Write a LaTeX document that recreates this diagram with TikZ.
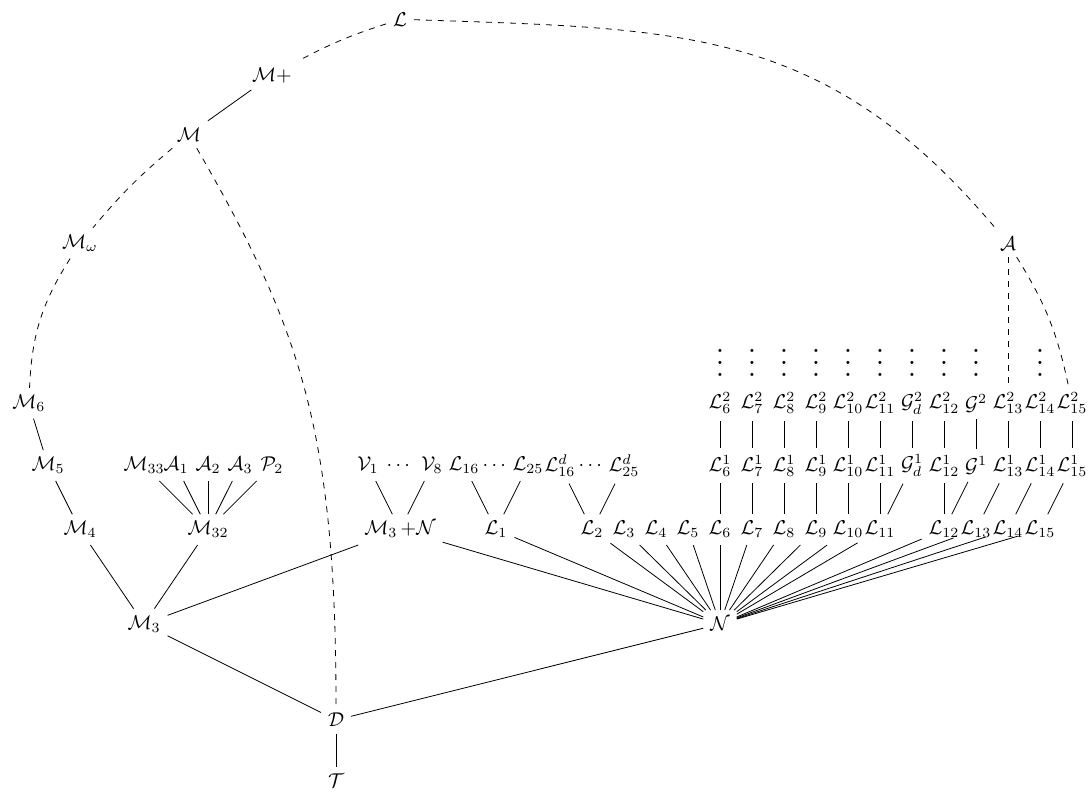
\documentclass[tikz,border=0pt]{standalone}
\usepackage{amsmath}
\usepackage{amssymb}
\usepackage{tikz}

\newcommand{\tallvdots}{\vbox{\baselineskip6pt\lineskiplimit0pt
  \hbox{\bfseries .}\hbox{\bfseries .}\hbox{\bfseries .}}}

\begin{document}
\begin{tikzpicture}[x=16pt,y=16pt]
\useasboundingbox (-0.5,0.5) rectangle (33.53,-24.28);
% top and left chain
\node (l) at (12,-0.1) {$\mathcal{L}$};
\node (mp) at (8,-1.85) {$\mathcal{M}+$};
\node (m) at (5.4,-3.7) {$\mathcal{M}$};
\node (mw) at (2,-7.1) {$\mathcal{M}_\omega$};
\node (m6) at (0.4,-12.1) {$\mathcal{M}_6$};
\node (m5) at (1,-14.05) {$\mathcal{M}_5$};
\node (m4) at (2,-16.05) {$\mathcal{M}_4$};
\node (m3) at (4,-19) {$\mathcal{M}_3$};
\node (m32) at (6,-16.05) {$\mathcal{M}_{32}$};
\node (m33) at (4,-14.05) {$\mathcal{M}_{33}$};
\node (a1) at (5,-14.05) {$\mathcal{A}_1$};
\node (a2) at (6,-14.05) {$\mathcal{A}_2$};
\node (a3) at (7,-14.05) {$\mathcal{A}_3$};
\node (p2) at (8,-14.05) {$\mathcal{P}_2$};
\node (d) at (10,-22) {$\mathcal{D}$};
\node (t) at (10,-23.9) {$\mathcal{T}$};
\node (n) at (22,-19) {$\mathcal{N}$};
\node (a) at (31,-7.1) {$\mathcal{A}$};
% middle part
\node (m3n) at (12,-16.05) {$\mathcal{M}_3\,{+}\mathcal{N}$};
\node (v1) at (11,-14.05) {$\mathcal{V}_1$};
\node (vd) at (12,-14.05) {$\cdots$};
\node (v8) at (13,-14.05) {$\mathcal{V}_8$};
\node (l1) at (15,-16.05) {$\mathcal{L}_1$};
\node (l16) at (14,-14.05) {$\mathcal{L}_{16}$};
\node (ld) at (15,-14.05) {$\cdots$};
\node (l25) at (16,-14.05) {$\mathcal{L}_{25}$};
\node (l2) at (18,-16.05) {$\mathcal{L}_2$};
\node (ld16) at (17,-14.05) {$\mathcal{L}^d_{16}$};
\node (ldd) at (18,-14.05) {$\cdots$};
\node (ld25) at (19,-14.05) {$\mathcal{L}^d_{25}$};
% right part
\foreach \i/\c in {3/19,4/20,5/21,6/22,7/23,8/24,9/25,10/26,11/27,12/29,13/30,14/31,15/32}
  \node (l\i) at (\c,-16.05) {$\mathcal{L}_{\i}$};
\foreach \i/\c in {6/22,7/23,8/24,9/25,10/26,11/27,12/29,13/31,14/32,15/33} {
  \node (la\i) at (\c,-14.05) {$\mathcal{L}^1_{\i}$};
  \node (lb\i) at (\c,-12.1) {$\mathcal{L}^2_{\i}$};
  \draw (la\i) -- (lb\i);
}
\node (gd1) at (28,-14.05) {$\mathcal{G}^1_d$};
\node (gd2) at (28,-12.1) {$\mathcal{G}^2_d$};
\node (g1) at (30,-14.05) {$\mathcal{G}^1$};
\node (g2) at (30,-12.1) {$\mathcal{G}^2$};
\foreach \c in {22,...,30,32}
  \node[inner sep=0pt] (vdots\c) at (\c,-10.85) {\tallvdots};

% solid edges
\draw (m) -- (mp);
\draw (m6) -- (m5);
\draw (m5) -- (m4);
\draw (m4) -- (m3);
\draw (m32) -- (m3);
\foreach \j in {m33,a1,a2,a3,p2}
  \draw (\j) -- (m32);
\draw (m3) -- (m3n);
\draw (m3) -- (d);
\draw (d) -- (t);
\draw (d) -- (n);
\draw (v1) -- (m3n);
\draw (v8) -- (m3n);
\draw (l16) -- (l1);
\draw (l25) -- (l1);
\draw (ld16) -- (l2);
\draw (ld25) -- (l2);
\foreach \j in {m3n,l1,l2,l3,l4,l5,l6,l7,l8,l9,l10,l11,l12,l13,l14,l15}
  \draw (n) -- (\j);
\foreach \i in {6,...,12}
  \draw (la\i) -- (l\i);
\draw (gd1) -- (l11);
\draw (g1) -- (l12);
\draw (la13) -- (l13);
\draw (la14) -- (l14);
\draw (la15) -- (l15);
\draw (gd2) -- (gd1);
\draw (g2) -- (g1);

% dashed edges
\draw[dashed] (l) to[bend right=5] (mp);
\draw[dashed] (m) to[bend right=5] (mw);
\draw[dashed] (mw) to[bend right=15] (m6);
\draw[dashed] (m) .. controls +(-60:7) and +(90:9) .. (d);
\draw[dashed] (l) to[out=-2,in=130,looseness=1.1] (a);
\draw[dashed] (a) -- (lb13);
\draw[dashed] (a) to[bend left=10] (lb15);
\end{tikzpicture}
\end{document}
